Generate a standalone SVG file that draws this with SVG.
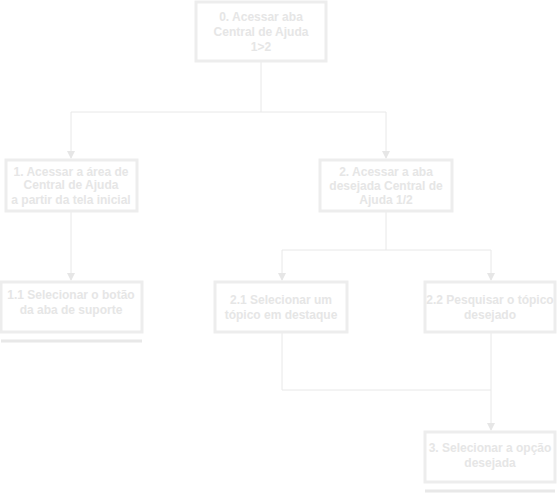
<svg xmlns="http://www.w3.org/2000/svg" width="558" height="494" viewBox="0 0 558 494">
<style>
.box{fill:#ffffff;stroke:#ededed;stroke-width:3}
.t{font-family:"Liberation Sans",Arial,sans-serif;font-size:12px;font-weight:bold;fill:#e6e6e6;text-anchor:middle}
.ln{fill:none;stroke:#e8e8e8;stroke-width:1}
.ul{stroke:#e8e8e8;stroke-width:3}
</style>
<defs>
<marker id="ah" markerWidth="8" markerHeight="8" refX="7" refY="4" orient="auto" markerUnits="userSpaceOnUse">
<path d="M0,0 L8,4 L0,8 Z" fill="#e6e6e6"/>
</marker>
</defs>
<rect width="558" height="494" fill="#ffffff"/>
<g id="connectors">
<path class="ln" d="M261,62 V112"/>
<path class="ln" d="M71,112 H386"/>
<path class="ln" d="M71,112 V158" marker-end="url(#ah)"/>
<path class="ln" d="M386,112 V158" marker-end="url(#ah)"/>
<path class="ln" d="M71,211 V280" marker-end="url(#ah)"/>
<path class="ln" d="M386,212 V250"/>
<path class="ln" d="M282,250 H491"/>
<path class="ln" d="M282,250 V280" marker-end="url(#ah)"/>
<path class="ln" d="M491,250 V280" marker-end="url(#ah)"/>
<path class="ln" d="M282,332 V390 H491"/>
<path class="ln" d="M491,332 V430" marker-end="url(#ah)"/>
</g>
<g id="n0">
<rect class="box" x="196" y="2" width="130" height="59"/>
<text class="t" x="261" y="21">0. Acessar aba</text>
<text class="t" x="261" y="36">Central de Ajuda</text>
<text class="t" x="261" y="51">1&gt;2</text>
</g>
<g id="n1">
<rect class="box" x="6" y="160" width="131" height="51"/>
<text class="t" x="71" y="176">1. Acessar a área de</text>
<text class="t" x="71" y="189">Central de Ajuda</text>
<text class="t" x="71" y="204">a partir da tela inicial</text>
</g>
<g id="n2">
<rect class="box" x="320" y="160" width="132" height="51"/>
<text class="t" x="386" y="176">2. Acessar a aba</text>
<text class="t" x="386" y="190">desejada Central de</text>
<text class="t" x="386" y="204">Ajuda 1/2</text>
</g>
<g id="n11">
<rect class="box" x="1" y="282" width="141" height="50"/>
<text class="t" x="71" y="299">1.1 Selecionar o botão</text>
<text class="t" x="71" y="314">da aba de suporte</text>
<line class="ul" x1="1" y1="341" x2="142" y2="341"/>
</g>
<g id="n21">
<rect class="box" x="215" y="282" width="132" height="50"/>
<text class="t" x="281" y="304">2.1 Selecionar um</text>
<text class="t" x="281" y="319">tópico em destaque</text>
</g>
<g id="n22">
<rect class="box" x="425" y="282" width="130" height="50"/>
<text class="t" x="490" y="304">2.2 Pesquisar o tópico</text>
<text class="t" x="490" y="319">desejado</text>
</g>
<g id="n3">
<rect class="box" x="425" y="432" width="130" height="50"/>
<text class="t" x="490" y="452">3. Selecionar a opção</text>
<text class="t" x="490" y="467">desejada</text>
<line class="ul" x1="425" y1="491" x2="555" y2="491"/>
</g>
</svg>
